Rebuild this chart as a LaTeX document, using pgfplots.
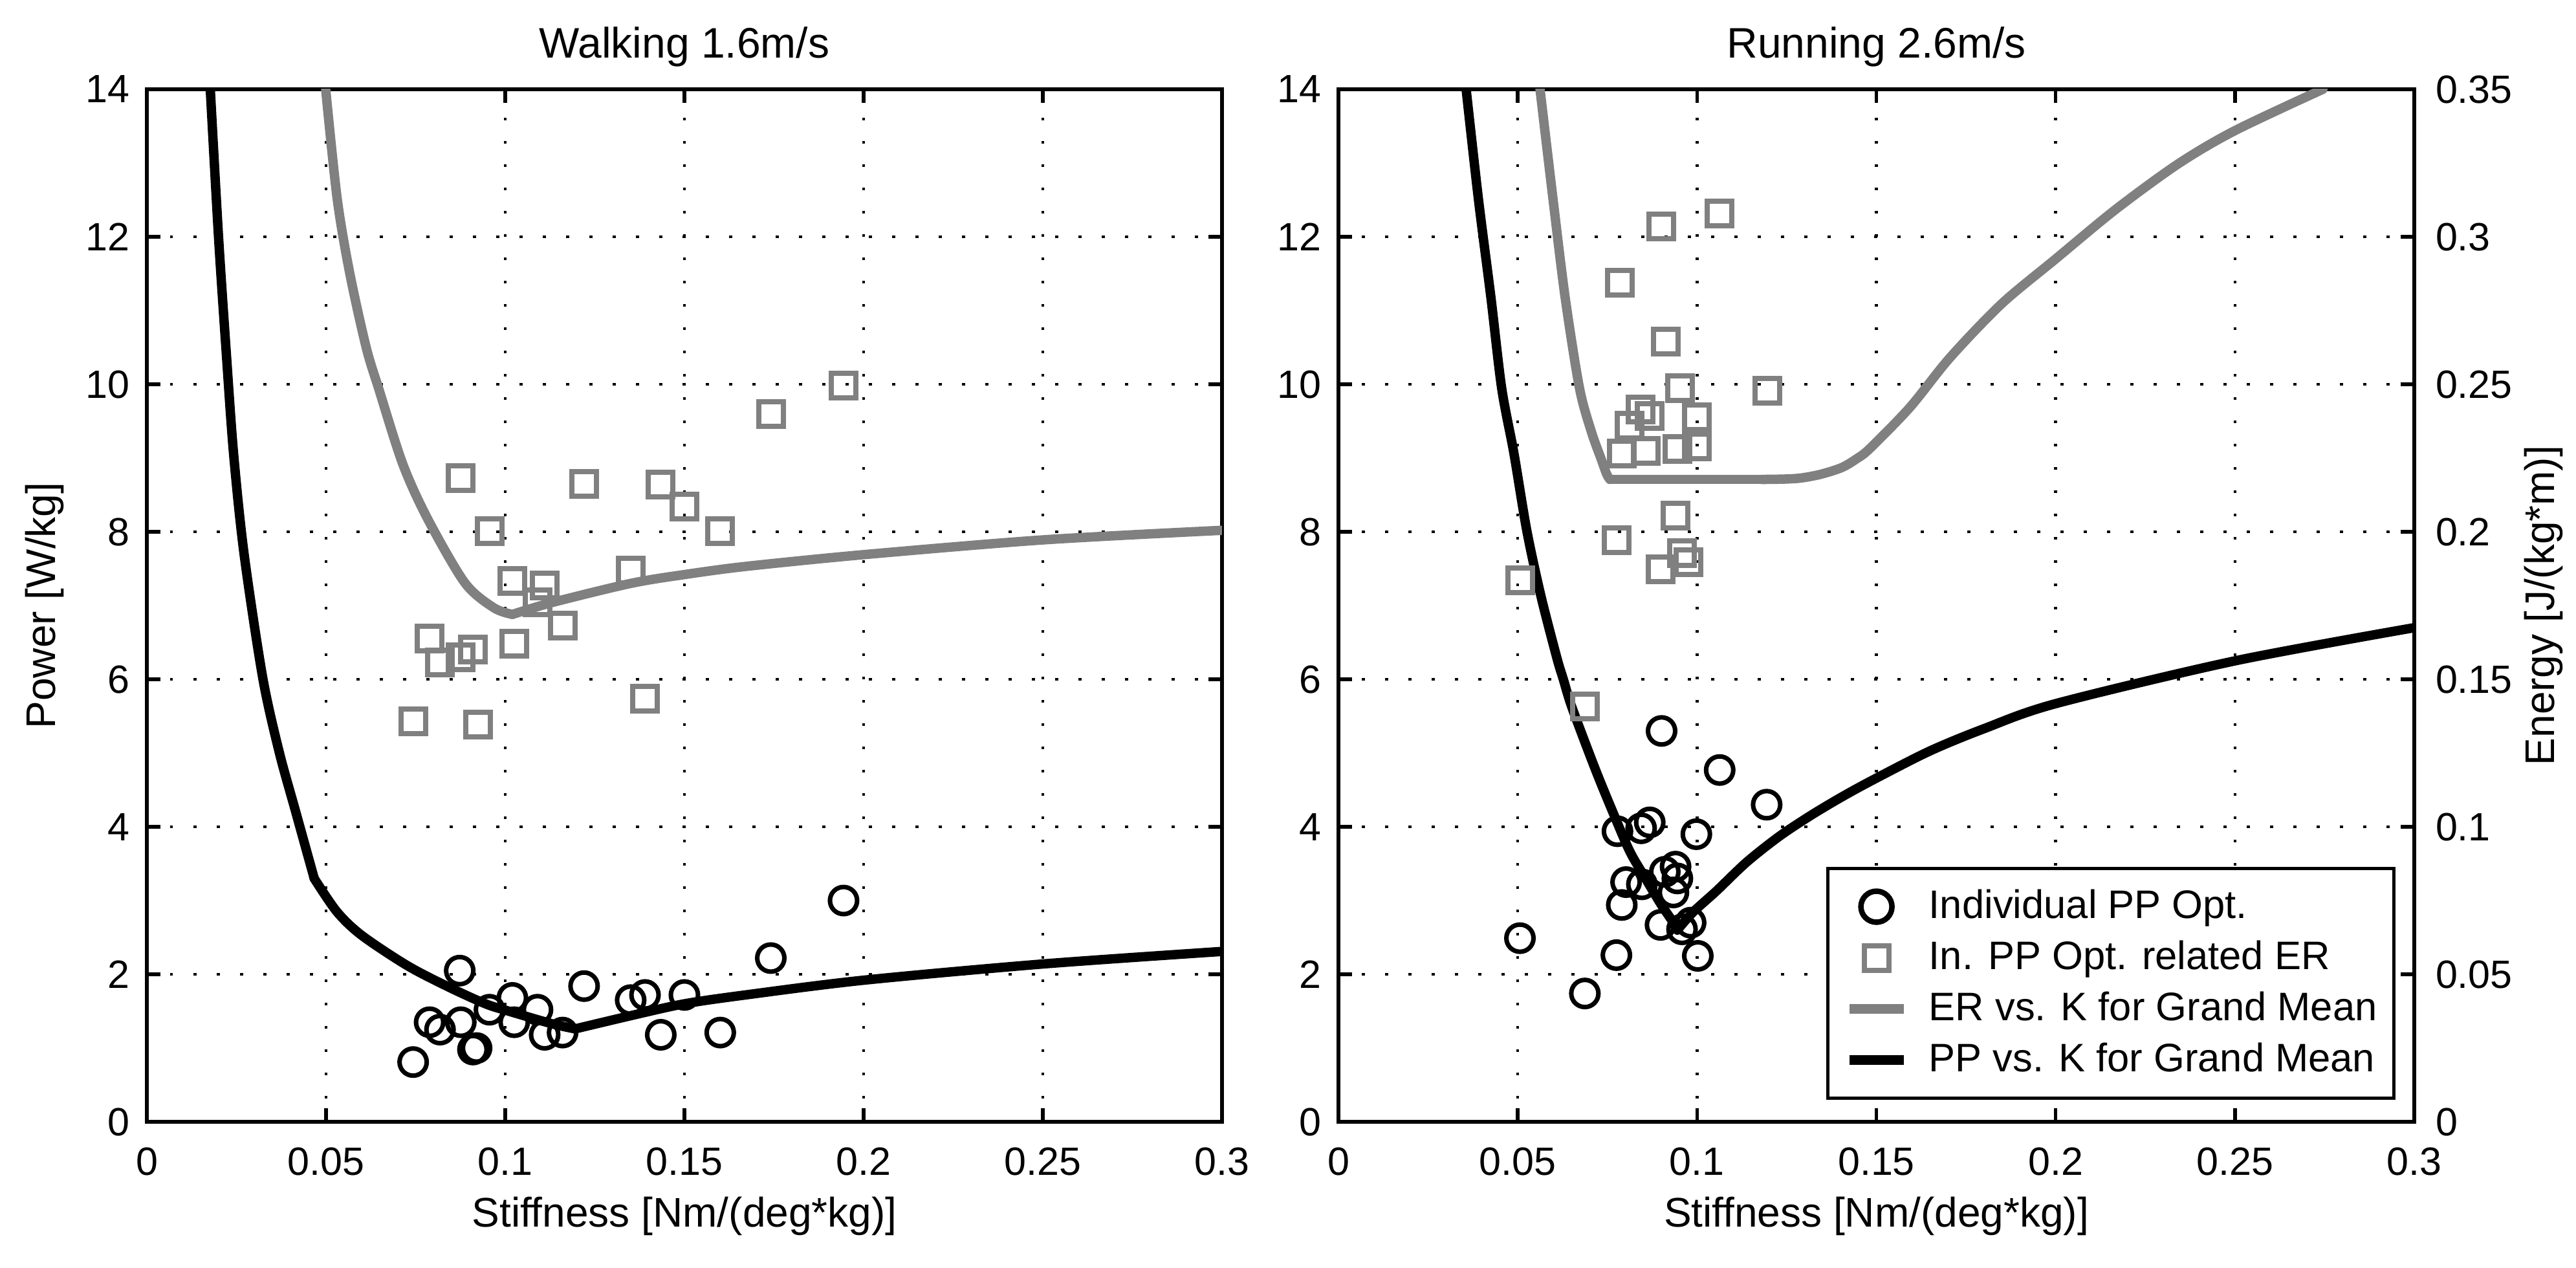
\documentclass[border=0pt]{standalone}
\usepackage{pgfplots}
\pgfplotsset{compat=1.18}
\usepackage{fontspec}
\setmainfont{Liberation Sans}
\definecolor{mgray}{RGB}{128,128,128}
\newcommand\tickfont{\fontsize{6.1pt}{7pt}\selectfont}
\newcommand\labfont{\fontsize{6.4pt}{7.5pt}\selectfont}
\newcommand\legfont{\fontsize{6.15pt}{7.3pt}\selectfont}
\newcommand\titfont{\fontsize{6.6pt}{7.8pt}\selectfont}
\pgfplotsset{
  panel/.style={
    scale only axis, anchor=south west,
    height=159.6pt,
    xmin=0, xmax=0.3, ymin=0, ymax=14,
    xtick={0,0.05,0.1,0.15,0.2,0.25,0.3},
    xticklabels={0,0.05,0.1,0.15,0.2,0.25,0.3},
    ytick={0,2,4,6,8,10,12,14},
    yticklabels={0,2,4,6,8,10,12,14},
    /pgf/number format/assume math mode=true,
    tick align=inside, tick pos=both,
    major tick length=2.1pt,
    every tick/.style={black, line width=0.55pt},
    axis line style={line width=0.55pt},
    grid=major,
    major grid style={black, line width=0.45pt, dash pattern=on 0.45pt off 3.15pt},
    xticklabel style={font=\tickfont, anchor=base, inner sep=0pt, yshift=-8.2pt},
    yticklabel style={font=\tickfont, anchor=east, inner sep=0pt, xshift=-2.45pt},
    every axis x label/.style={at={(axis description cs:0.5,-0.1021)}, anchor=base, font=\labfont},
    every axis y label/.style={at={(axis description cs:-0.0854,0.5)}, rotate=90, anchor=base, font=\labfont},
    every axis title/.style={at={(axis description cs:0.5,1.0301)}, anchor=base, font=\titfont},
    clip=true,
  },
  pcurve/.style={black, line width=1.45pt, no marks, smooth, line cap=round, line join=round},
  ecurve/.style={mgray, line width=1.45pt, no marks, smooth, line cap=round, line join=round},
  pmark/.style={only marks, mark=o, mark size=2.1pt, black, mark options={line width=0.7pt}},
  emark/.style={only marks, mark=square, mark size=1.9pt, mgray, mark options={line width=0.8pt}},
  legmark/.style={legend image code/.code={\draw[##1,mark repeat=2,mark phase=2] plot coordinates {(0pt,0pt) (4.2pt,0pt) (8.4pt,0pt)};}},
  legmarkc/.style={legend image code/.code={\draw[##1,mark repeat=2,mark phase=2,mark size=2.4pt,mark options={line width=0.85pt}] plot coordinates {(0pt,0pt) (4.2pt,0pt) (8.4pt,0pt)};}},
  legline/.style={legend image code/.code={\draw[##1, sharp plot, line cap=butt] (0pt,0pt) -- (8.4pt,0pt);}},
}
\begin{document}
\begin{tikzpicture}
\useasboundingbox (0,0) rectangle (398.2pt,195.9pt);
% ---------------- Walking ----------------
\begin{axis}[panel, at={(22.7pt,22.5pt)}, width=166.2pt,
  title={Walking 1.6m/s},
  xlabel={Stiffness [Nm/(deg*kg)]},
  ylabel={Power [W/kg]}]
\addplot[emark] coordinates {
(0.0876,8.73) (0.0957,8.01) (0.102,7.33) (0.111,7.27) (0.109,7.04) (0.116,6.73)
(0.0789,6.55) (0.0818,6.23) (0.0876,6.30) (0.091,6.40) (0.1025,6.48) (0.0743,5.43)
(0.0924,5.39) (0.122,8.65) (0.135,7.47) (0.1434,8.64) (0.150,8.34) (0.160,8.01)
(0.139,5.74) (0.1741,9.60) (0.1944,9.98)};
\addplot[pmark] coordinates {
(0.0743,0.81) (0.0789,1.35) (0.0818,1.25) (0.0873,2.05) (0.0876,1.35) (0.091,0.98)
(0.092,1.00) (0.0956,1.52) (0.102,1.68) (0.1025,1.35) (0.109,1.52) (0.111,1.18)
(0.116,1.21) (0.122,1.84) (0.135,1.65) (0.139,1.72) (0.1434,1.18) (0.150,1.72)
(0.160,1.21) (0.1741,2.22) (0.1944,3.00)};
\addplot[ecurve] coordinates {
(0.0499,14) (0.0531,12.52) (0.0566,11.51) (0.0612,10.5) (0.0647,9.94) (0.0714,8.92)
(0.0783,8.18) (0.0887,7.31) (0.0968,6.97) (0.102,6.88)};
\addplot[ecurve] coordinates {
(0.102,6.88) (0.113,7.04) (0.135,7.30) (0.150,7.42) (0.167,7.53) (0.2,7.69)
(0.25,7.89) (0.3,8.02)};
\addplot[pcurve] coordinates {
(0.0177,14) (0.0200,12) (0.0222,10.4) (0.0242,9.06) (0.0271,7.71) (0.0323,6.03)
(0.0369,5.02) (0.0415,4.21) (0.0467,3.30)};
\addplot[pcurve] coordinates {
(0.0467,3.30) (0.0530,2.85) (0.0599,2.53) (0.0726,2.12) (0.0841,1.83) (0.0945,1.60)
(0.101,1.50) (0.113,1.33) (0.1195,1.26)};
\addplot[pcurve] coordinates {
(0.1195,1.26) (0.136,1.45) (0.150,1.60) (0.167,1.72) (0.2,1.92) (0.25,2.14) (0.3,2.31)};
\end{axis}
% ---------------- Running ----------------
\begin{axis}[panel, at={(206.9pt,22.5pt)}, width=166.3pt,
  title={Running 2.6m/s},
  xlabel={Stiffness [Nm/(deg*kg)]},
  legend cell align=left,
  legend style={at={(axis description cs:0.9826,0.0213)}, anchor=south east,
    draw=black, line width=0.5pt, fill=white,
    inner xsep=2.6pt, inner ysep=2.85pt, row sep=1.8pt, column sep=3.2pt,
    font=\legfont,
    nodes={inner sep=0pt, text height=4.8pt, text depth=1.3pt}},
  ]
\addplot[pmark, legmarkc] coordinates {
(0.0901,5.30) (0.1063,4.77) (0.1194,4.30) (0.0778,3.94) (0.0844,3.98) (0.0868,4.06)
(0.0998,3.90) (0.0802,3.25) (0.0846,3.22) (0.0910,3.39) (0.094,3.46) (0.0934,3.11)
(0.0790,2.94) (0.0898,2.67) (0.0958,2.61) (0.0982,2.70) (0.1002,2.25) (0.0775,2.26)
(0.0506,2.49) (0.0687,1.74) (0.0945,3.30)};
\addlegendentry{Individual PP Opt.}
\addplot[emark, legmark] coordinates {
(0.1062,12.32) (0.0901,12.14) (0.0784,11.38) (0.0913,10.58) (0.0952,9.95) (0.1196,9.91)
(0.0842,9.66) (0.0868,9.57) (0.1,9.55) (0.0812,9.44) (0.079,9.06) (0.0857,9.10)
(0.0946,9.12) (0.1,9.16) (0.094,8.22) (0.0775,7.89) (0.0898,7.49) (0.0957,7.71)
(0.0976,7.59) (0.0507,7.34) (0.0687,5.63)};
\addlegendentry{In. PP Opt. related ER}
\addplot[ecurve, forget plot] coordinates {
(0.0562,14) (0.0598,12.52) (0.0632,11.18) (0.0672,9.95) (0.0705,9.36) (0.0733,8.98)
(0.0748,8.78) (0.0757,8.71)};
\addplot[ecurve, forget plot, sharp plot] coordinates {
(0.0757,8.71) (0.118,8.71)};
\addplot[ecurve, legline] coordinates {
(0.118,8.71) (0.1245,8.715) (0.1291,8.73) (0.1345,8.78) (0.1403,8.87) (0.1445,8.99)
(0.1482,9.13) (0.1594,9.69) (0.1705,10.36)
(0.1849,11.09) (0.2,11.70) (0.2167,12.37) (0.2342,12.99) (0.25,13.44) (0.2745,14.0)};
\addlegendentry{ER vs. K for Grand Mean}
\addplot[pcurve, forget plot] coordinates {
(0.0356,14) (0.0390,12.52) (0.0425,11.18) (0.0455,9.95) (0.0489,9.07) (0.0525,8.02)
(0.0564,7.14) (0.0609,6.29) (0.0627,6.0) (0.0651,5.62) (0.0717,4.77) (0.0771,4.13)
(0.0813,3.66) (0.0855,3.31) (0.0898,2.96) (0.0934,2.70) (0.0945,2.60)};
\addplot[pcurve, legline] coordinates {
(0.0945,2.60) (0.0988,2.84) (0.1054,3.13) (0.1138,3.52) (0.1229,3.87) (0.1319,4.16)
(0.1409,4.42) (0.150,4.66) (0.165,5.03) (0.18,5.33) (0.2,5.67) (0.25,6.25) (0.3,6.70)};
\addlegendentry{PP vs. K for Grand Mean}
\end{axis}
% ---------------- Energy axis ----------------
\begin{axis}[scale only axis, anchor=south west, at={(206.9pt,22.5pt)},
  width=166.3pt, height=159.6pt,
  xmin=0, xmax=0.3, ymin=0, ymax=0.35,
  hide x axis, axis y line*=right,
  ytick={0,0.05,0.1,0.15,0.2,0.25,0.3,0.35},
  yticklabels={0,0.05,0.1,0.15,0.2,0.25,0.3,0.35},
  tick align=inside, major tick length=2.1pt,
  every tick/.style={black, line width=0.55pt},
  axis line style={line width=0.55pt},
  yticklabel style={font=\tickfont, anchor=west, inner sep=0pt, xshift=3.1pt},
  ylabel={Energy [J/(kg*m)]},
  every axis y label/.style={at={(axis description cs:1.1299,0.5)}, rotate=90, anchor=base, font=\labfont},
  ]
\end{axis}
\end{tikzpicture}
\end{document}
